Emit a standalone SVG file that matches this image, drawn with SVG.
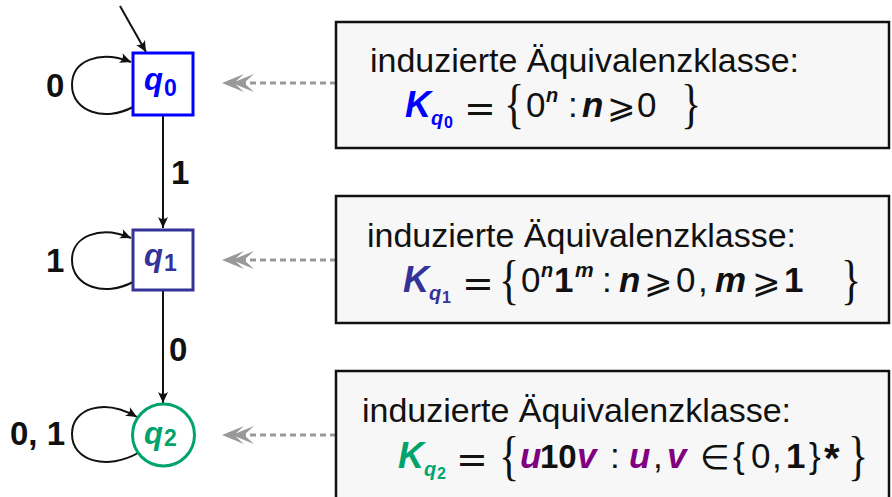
<svg xmlns="http://www.w3.org/2000/svg" width="892" height="497" viewBox="0 0 892 497">
<style>
text{font-family:"Liberation Sans","DejaVu Sans",sans-serif;fill:#111}
.lbl{font-size:34px}
.m{font-size:35px}
.bi{font-weight:bold;font-style:italic}
.b{font-weight:bold}
.dj{font-family:"DejaVu Sans",sans-serif}
.ge{font-family:"DejaVu Sans",sans-serif;font-size:34px}
.br{font-family:"Liberation Serif","DejaVu Serif",serif;font-size:42px}
.el{font-size:33px;font-weight:bold}
.box{fill:#f7f7f7;stroke:#111;stroke-width:2.5}
.edge{fill:none;stroke:#111;stroke-width:2}
.dash{fill:none;stroke:#999;stroke-width:3;stroke-dasharray:6 4}
.chev{fill:#999}
</style>
<defs>
<marker id="ah" viewBox="-12 -6 13 12" refX="0" refY="0" markerWidth="13" markerHeight="12" markerUnits="userSpaceOnUse" orient="auto">
<path d="M0,0 L-11,-5 Q-7,0 -11,5 Z" fill="#111"/>
</marker>
</defs>

<g id="connectors">
<path class="edge" d="M120,6 L146,52" marker-end="url(#ah)"/>
<path class="edge" d="M133,107 C105,122 72,112 72,85 C72,60 100,50 131,62" marker-end="url(#ah)"/>
<path class="edge" d="M163,115 L163,228" marker-end="url(#ah)"/>
<path class="edge" d="M133,282 C105,297 72,287 72,260 C72,236 100,225 131,238" marker-end="url(#ah)"/>
<path class="edge" d="M163,290 L163,403" marker-end="url(#ah)"/>
<path class="edge" d="M138,453 C108,470 72,462 72,434 C72,408 104,398 137,417" marker-end="url(#ah)"/>
<text class="el" x="46" y="97">0</text>
<text class="el" x="171" y="184">1</text>
<text class="el" x="46" y="272">1</text>
<text class="el" x="169" y="361">0</text>
<text class="el" x="10" y="445">0, 1</text>

<path class="dash" d="M336,83 L238,83"/>
<path class="chev" d="M222,83 L244,74 L234,83 L244,92 Z M232,83 L254,74 L244,83 L254,92 Z"/>
<path class="dash" d="M336,260 L238,260"/>
<path class="chev" d="M222,260 L244,251 L234,260 L244,269 Z M232,260 L254,251 L244,260 L254,269 Z"/>
<path class="dash" d="M336,435 L238,435"/>
<path class="chev" d="M222,435 L244,426 L234,435 L244,444 Z M232,435 L254,426 L244,435 L254,444 Z"/>
</g>

<g id="q0">
<rect x="133" y="53" width="60" height="62" fill="#fff" stroke="#0000ff" stroke-width="3"/>
<text class="bi" x="144" y="90" font-size="31" style="fill:#0000ff">q</text>
<text class="b" x="164" y="96" font-size="23" style="fill:#0000ff">0</text>
</g>
<g id="q1">
<rect x="133" y="230" width="60" height="60" fill="#fff" stroke="#333399" stroke-width="3"/>
<text class="bi" x="144" y="266" font-size="31" style="fill:#333399">q</text>
<text class="b" x="164" y="271" font-size="23" style="fill:#333399">1</text>
</g>
<g id="q2">
<circle cx="163.5" cy="435" r="31" fill="#fff" stroke="#00a36c" stroke-width="3"/>
<text class="bi" x="144" y="444" font-size="31" style="fill:#00a36c">q</text>
<text class="b" x="164" y="446" font-size="23" style="fill:#00a36c">2</text>
</g>

<g id="box0">
<rect class="box" x="336" y="22" width="553" height="126"/>
<text class="lbl" x="370" y="72">induzierte Äquivalenzklasse:</text>
<text class="bi" x="405" y="117" font-size="36" style="fill:#0000ff">K</text>
<text class="bi" x="431" y="125" font-size="20" style="fill:#0000ff">q</text>
<text class="b" x="444" y="128" font-size="16" style="fill:#0000ff">0</text>
<text class="dj" x="464" y="121" font-size="38">=</text>
<text class="br" transform="translate(504,122) scale(1,1.3)">{</text>
<text class="m" x="526" y="117">0</text>
<text class="bi" x="546" y="102" font-size="20">n</text>
<text class="m" x="568" y="117">:</text>
<text class="m bi" x="582" y="117">n</text>
<text class="ge" x="607" y="118">⩾</text>
<text class="m" x="637" y="117">0</text>
<text class="br" transform="translate(681,122) scale(1,1.3)">}</text>
</g>

<g id="box1">
<rect class="box" x="336" y="196" width="553" height="127"/>
<text class="lbl" x="367" y="247">induzierte Äquivalenzklasse:</text>
<text class="bi" x="403" y="292" font-size="36" style="fill:#333399">K</text>
<text class="bi" x="429" y="300" font-size="20" style="fill:#333399">q</text>
<text class="b" x="442" y="303" font-size="16" style="fill:#333399">1</text>
<text class="dj" x="462" y="296" font-size="38">=</text>
<text class="br" transform="translate(499,298) scale(1,1.3)">{</text>
<text class="m" x="521" y="292">0</text>
<text class="bi" x="541" y="277" font-size="20">n</text>
<text class="m b" x="554" y="292">1</text>
<text class="bi" x="575" y="277" font-size="21">m</text>
<text class="m" x="602" y="292">:</text>
<text class="m bi" x="619" y="292">n</text>
<text class="ge" x="644" y="293">⩾</text>
<text class="m" x="676" y="292">0</text>
<text class="m" x="698" y="292">,</text>
<text class="m bi" x="715" y="292">m</text>
<text class="ge" x="752" y="293">⩾</text>
<text class="m b" x="784" y="292">1</text>
<text class="br" transform="translate(841,298) scale(1,1.3)">}</text>
</g>

<g id="box2">
<rect class="box" x="336" y="371" width="553" height="140"/>
<text class="lbl" x="362" y="422">induzierte Äquivalenzklasse:</text>
<text class="bi" x="398" y="468" font-size="36" style="fill:#00a36c">K</text>
<text class="bi" x="424" y="476" font-size="20" style="fill:#00a36c">q</text>
<text class="b" x="437" y="479" font-size="16" style="fill:#00a36c">2</text>
<text class="dj" x="456" y="472" font-size="38">=</text>
<text class="br" transform="translate(499,474) scale(1,1.3)">{</text>
<text class="m bi" x="520" y="468" style="fill:#800080">u</text>
<text class="b" x="540" y="468" font-size="33">10</text>
<text class="m bi" x="577" y="468" style="fill:#800080">v</text>
<text class="m" x="610" y="468">:</text>
<text class="m bi" x="629" y="468" style="fill:#800080">u</text>
<text class="m" x="653" y="468">,</text>
<text class="m bi" x="667" y="468" style="fill:#800080">v</text>
<text class="ge" x="700" y="469" font-size="36">∈</text>
<text class="m" x="733" y="468">{</text>
<text class="m" x="751" y="468">0</text>
<text class="m" x="772" y="468">,</text>
<text class="m b" x="786" y="468">1</text>
<text class="m" x="809" y="468">}</text>
<text class="b" x="824" y="472" font-size="40">*</text>
<text class="br" transform="translate(848,474) scale(1,1.3)">}</text>
</g>
</svg>
